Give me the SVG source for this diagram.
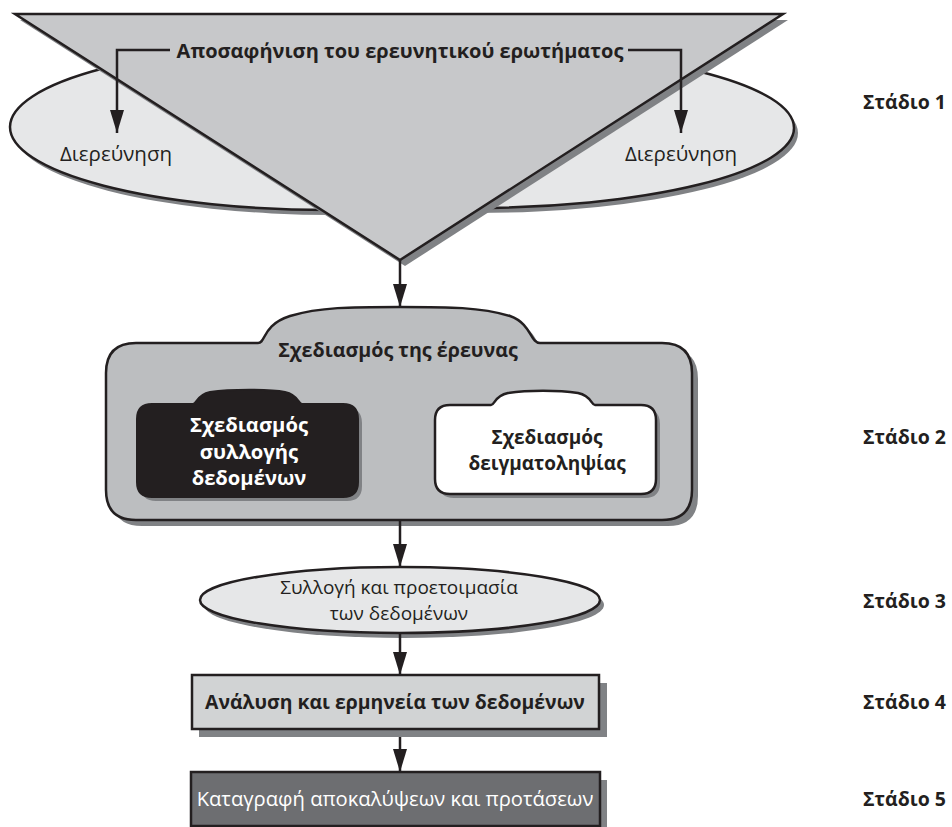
<svg xmlns="http://www.w3.org/2000/svg" width="952" height="827" viewBox="0 0 952 827">
<defs>
<style>
.ln{stroke:#231f20;stroke-width:2.5;fill:none}
.sh{fill:#808285;stroke:none}
.t{font-family:"Open Sans","Noto Sans","Liberation Sans",sans-serif;fill:#231f20}
.b{font-weight:bold}
.w{fill:#ffffff}
.st{font-family:"Open Sans","Noto Sans","Liberation Sans",sans-serif;font-weight:bold;font-size:19.5px;fill:#231f20}
</style>
<marker id="ah" viewBox="0 0 23 14" refX="23" refY="7" markerWidth="23" markerHeight="14" markerUnits="userSpaceOnUse" orient="auto">
<path d="M0,0 L23,7 L0,14 Z" fill="#231f20"/>
</marker>
<clipPath id="cl"><rect x="0" y="0" width="400" height="300"/></clipPath>
<clipPath id="cr"><rect x="400" y="0" width="552" height="300"/></clipPath>
</defs>
<rect width="952" height="827" fill="#ffffff"/>

<g id="explore-left" clip-path="url(#cl)">
<ellipse class="sh" cx="334" cy="132" rx="320" ry="83"/>
<ellipse cx="330" cy="127" rx="320" ry="83" fill="#e6e7e8" stroke="#231f20" stroke-width="2.5"/>
</g>
<g id="explore-right" clip-path="url(#cr)">
<ellipse class="sh" cx="474" cy="133" rx="324" ry="80"/>
<ellipse cx="470" cy="128" rx="324" ry="80" fill="#e6e7e8" stroke="#231f20" stroke-width="2.5"/>
</g>

<g id="clarify">
<polygon class="sh" points="20,20 788,20 405,266"/>
<polygon points="15,14 783,14 400,260" fill="#c7c8ca" stroke="#231f20" stroke-width="2.5"/>
<text class="t b" x="400" y="58" font-size="20" text-anchor="middle">Αποσαφήνιση του ερευνητικού ερωτήματος</text>
</g>

<text class="t" x="116" y="161" font-size="20.5" text-anchor="middle">Διερεύνηση</text>
<text class="t" x="681" y="161" font-size="20.5" text-anchor="middle">Διερεύνηση</text>

<g id="design">
<path class="sh" transform="translate(6,6)" d="M106,373 Q106,343 136,343 L258,343 C266,343 262,325 290,316 C320,307 350,307 400,307 C450,307 480,307 510,316 C532,324 530,343 540,343 L662,343 Q692,343 692,373 L692,490 Q692,520 662,520 L136,520 Q106,520 106,490 Z"/>
<path d="M106,373 Q106,343 136,343 L258,343 C266,343 262,325 290,316 C320,307 350,307 400,307 C450,307 480,307 510,316 C532,324 530,343 540,343 L662,343 Q692,343 692,373 L692,490 Q692,520 662,520 L136,520 Q106,520 106,490 Z" fill="#bcbec0" stroke="#231f20" stroke-width="2.5"/>
<text class="t b" x="398" y="357" font-size="19.7" text-anchor="middle">Σχεδιασμός της έρευνας</text>
</g>

<g id="data-collection-design">
<path class="sh" transform="translate(4,4)" d="M137,419 Q137,404 152,404 L193,404 C197,404 196,395 210,392 C230,389 270,389 285,392 C299,395 298,404 302,404 L343,404 Q358,404 358,419 L358,482 Q358,497 343,497 L152,497 Q137,497 137,482 Z"/>
<path d="M137,419 Q137,404 152,404 L193,404 C197,404 196,395 210,392 C230,389 270,389 285,392 C299,395 298,404 302,404 L343,404 Q358,404 358,419 L358,482 Q358,497 343,497 L152,497 Q137,497 137,482 Z" fill="#231f20" stroke="#231f20" stroke-width="2"/>
<text class="t b w" font-size="20.2" text-anchor="middle"><tspan x="249" y="432">Σχεδιασμός</tspan><tspan x="249" y="459">συλλογής</tspan><tspan x="249" y="485">δεδομένων</tspan></text>
</g>

<g id="sampling-design">
<path class="sh" transform="translate(4,4)" d="M435,420 Q435,405 450,405 L491,405 C495,405 494,396 508,393 C528,390 558,390 578,393 C592,396 591,405 595,405 L641,405 Q656,405 656,420 L656,479 Q656,494 641,494 L450,494 Q435,494 435,479 Z"/>
<path d="M435,420 Q435,405 450,405 L491,405 C495,405 494,396 508,393 C528,390 558,390 578,393 C592,396 591,405 595,405 L641,405 Q656,405 656,420 L656,479 Q656,494 641,494 L450,494 Q435,494 435,479 Z" fill="#ffffff" stroke="#231f20" stroke-width="2.5"/>
<text class="t b" font-size="19" text-anchor="middle"><tspan x="547" y="444">Σχεδιασμός</tspan><tspan x="547" y="470">δειγματοληψίας</tspan></text>
</g>

<g id="collection">
<ellipse class="sh" cx="404" cy="605" rx="200" ry="33"/>
<ellipse cx="400" cy="600" rx="200" ry="33" fill="#e6e7e8" stroke="#231f20" stroke-width="2.5"/>
<text class="t" font-size="19" text-anchor="middle"><tspan x="399" y="594">Συλλογή και προετοιμασία</tspan><tspan x="399" y="620">των δεδομένων</tspan></text>
</g>

<g id="analysis">
<rect class="sh" x="199" y="683" width="408" height="54"/>
<rect x="192" y="675" width="407" height="54" fill="#d1d3d4" stroke="#231f20" stroke-width="2.5"/>
<text class="t b" x="395" y="709" font-size="19.4" text-anchor="middle">Ανάλυση και ερμηνεία των δεδομένων</text>
</g>

<g id="reporting">
<rect class="sh" x="198" y="780" width="409" height="50"/>
<rect x="191" y="772" width="409" height="54" fill="#6d6e71" stroke="#231f20" stroke-width="2.5"/>
<text class="t w" x="395" y="806" font-size="20.2" text-anchor="middle">Καταγραφή αποκαλύψεων και προτάσεων</text>
</g>

<g id="connectors">
<path class="ln" d="M170,50 L117,50 L117,133" marker-end="url(#ah)"/>
<path class="ln" d="M628,50 L681,50 L681,133" marker-end="url(#ah)"/>
<path class="ln" d="M400,260 L400,307" marker-end="url(#ah)"/>
<path class="ln" d="M400,520 L400,567" marker-end="url(#ah)"/>
<path class="ln" d="M400,634 L400,675" marker-end="url(#ah)"/>
<path class="ln" d="M400,737 L400,772" marker-end="url(#ah)"/>
</g>

<g id="stages">
<text class="st" x="863" y="109">Στάδιο 1</text>
<text class="st" x="863" y="444">Στάδιο 2</text>
<text class="st" x="863" y="608">Στάδιο 3</text>
<text class="st" x="863" y="709">Στάδιο 4</text>
<text class="st" x="863" y="806">Στάδιο 5</text>
</g>
</svg>
